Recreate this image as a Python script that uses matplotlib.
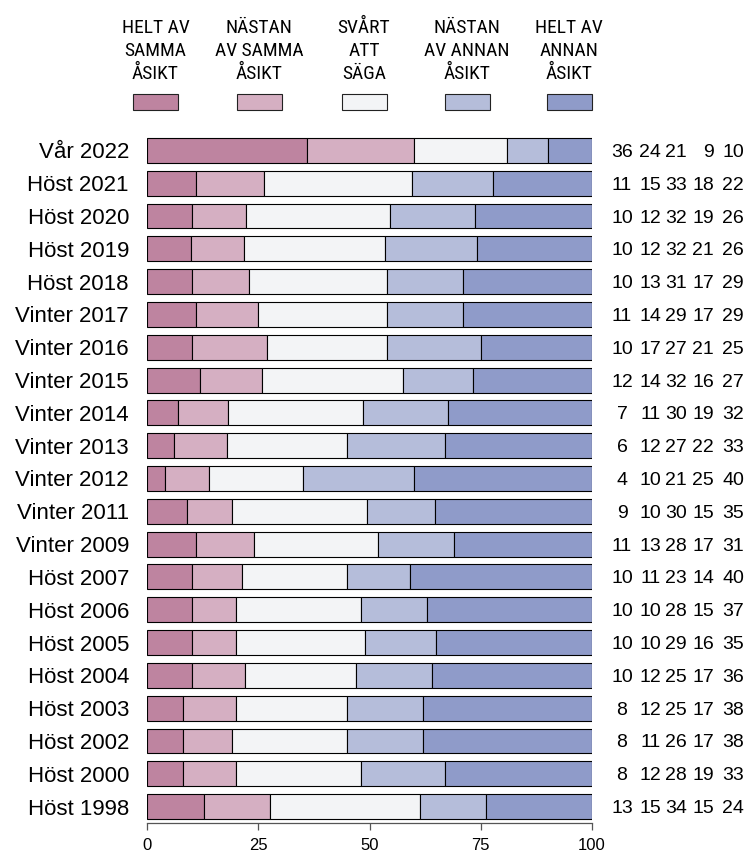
import numpy as np
import matplotlib
matplotlib.use("Agg")
import matplotlib.pyplot as plt
from matplotlib.patches import Rectangle
from matplotlib.transforms import blended_transform_factory
from matplotlib import font_manager

plt.rcParams['font.family'] = ['Liberation Sans', 'DejaVu Sans']

# answer categories (legend headers, left to right)
categories = ['HELT AV\nSAMMA\nÅSIKT', 'NÄSTAN\nAV SAMMA\nÅSIKT', 'SVÅRT\nATT\nSÄGA',
              'NÄSTAN\nAV ANNAN\nÅSIKT', 'HELT AV\nANNAN\nÅSIKT']
colors = ['#BE84A0', '#D5AFC2', '#F3F4F6', '#B5BDDA', '#8F9BC9']

# survey rounds, top to bottom
periods = ['Vår 2022', 'Höst 2021', 'Höst 2020', 'Höst 2019', 'Höst 2018',
           'Vinter 2017', 'Vinter 2016', 'Vinter 2015', 'Vinter 2014', 'Vinter 2013',
           'Vinter 2012', 'Vinter 2011', 'Vinter 2009', 'Höst 2007', 'Höst 2006',
           'Höst 2005', 'Höst 2004', 'Höst 2003', 'Höst 2002', 'Höst 2000', 'Höst 1998']

helt_samma = [36, 11, 10, 10, 10, 11, 10, 12, 7, 6, 4, 9, 11, 10, 10, 10, 10, 8, 8, 8, 13]
nastan_samma = [24, 15, 12, 12, 13, 14, 17, 14, 11, 12, 10, 10, 13, 11, 10, 10, 12, 12, 11, 12, 15]
svart = [21, 33, 32, 32, 31, 29, 27, 32, 30, 27, 21, 30, 28, 23, 28, 29, 25, 25, 26, 28, 34]
nastan_annan = [9, 18, 19, 21, 17, 17, 21, 16, 19, 22, 25, 15, 17, 14, 15, 16, 17, 17, 17, 19, 15]
helt_annan = [10, 22, 26, 26, 29, 29, 25, 27, 32, 33, 40, 35, 31, 40, 37, 35, 36, 38, 38, 33, 24]

series = [helt_samma, nastan_samma, svart, nastan_annan, helt_annan]

# narrow font for the headers if one is around
installed = {f.name for f in font_manager.fontManager.ttflist}
head_font, head_size = 'Liberation Sans', 13
for name in ['Liberation Sans Narrow', 'Arial Narrow', 'Roboto Condensed']:
    if name in installed:
        head_font, head_size = name, 14
        break

W, H = 748, 852
fig = plt.figure(figsize=(W / 100, H / 100), dpi=100)
ax = fig.add_axes([147 / W, (H - 823) / H, (592 - 147) / W, (823 - 134) / H])

raw = np.array(series, dtype=float)
shares = raw / raw.sum(axis=0) * 100
y = np.arange(len(periods))
left = np.zeros(len(periods))
for vals, col in zip(shares, colors):
    ax.barh(y, vals, left=left, height=0.76, color=col, edgecolor='black', linewidth=0.8)
    left += vals

ax.set_xlim(0, 100)
ax.set_ylim(len(periods) - 0.5, -0.5)
ax.set_yticks(y)
ax.set_yticklabels(periods, fontsize=16)
ax.tick_params(axis='y', length=0, pad=13)
ax.set_xticks([0, 25, 50, 75, 100])
ax.tick_params(axis='x', length=5, width=0.9, color='#555555', labelsize=12, pad=6)
for s in ['top', 'right', 'left']:
    ax.spines[s].set_visible(False)
ax.spines['bottom'].set_color('#555555')
ax.spines['bottom'].set_linewidth(0.9)

# values column on the right
trans = blended_transform_factory(fig.transFigure, ax.transData)
col_x = [622, 661, 687, 714, 744]
for i in range(len(periods)):
    for j, vals in enumerate(series):
        ha = 'center' if j == 0 else 'right'
        ax.text(col_x[j] / W, i, str(vals[i]), transform=trans, ha=ha,
                va='center_baseline', fontsize=14, clip_on=False)

# legend: headers over coloured boxes
centers = [155.5, 259, 364, 467, 569]
for cx, lab, col in zip(centers, categories, colors):
    fig.add_artist(Rectangle(((cx - 22.5) / W, (H - 110) / H), 45 / W, 16 / H,
                             facecolor=col, edgecolor='#222222', linewidth=0.8,
                             transform=fig.transFigure))
    fig.text(cx / W, (H - 19) / H, lab, ha='center', va='top', fontsize=head_size,
             linespacing=1.36, family=[head_font, 'DejaVu Sans'])

fig.savefig('out.png', dpi=100)
